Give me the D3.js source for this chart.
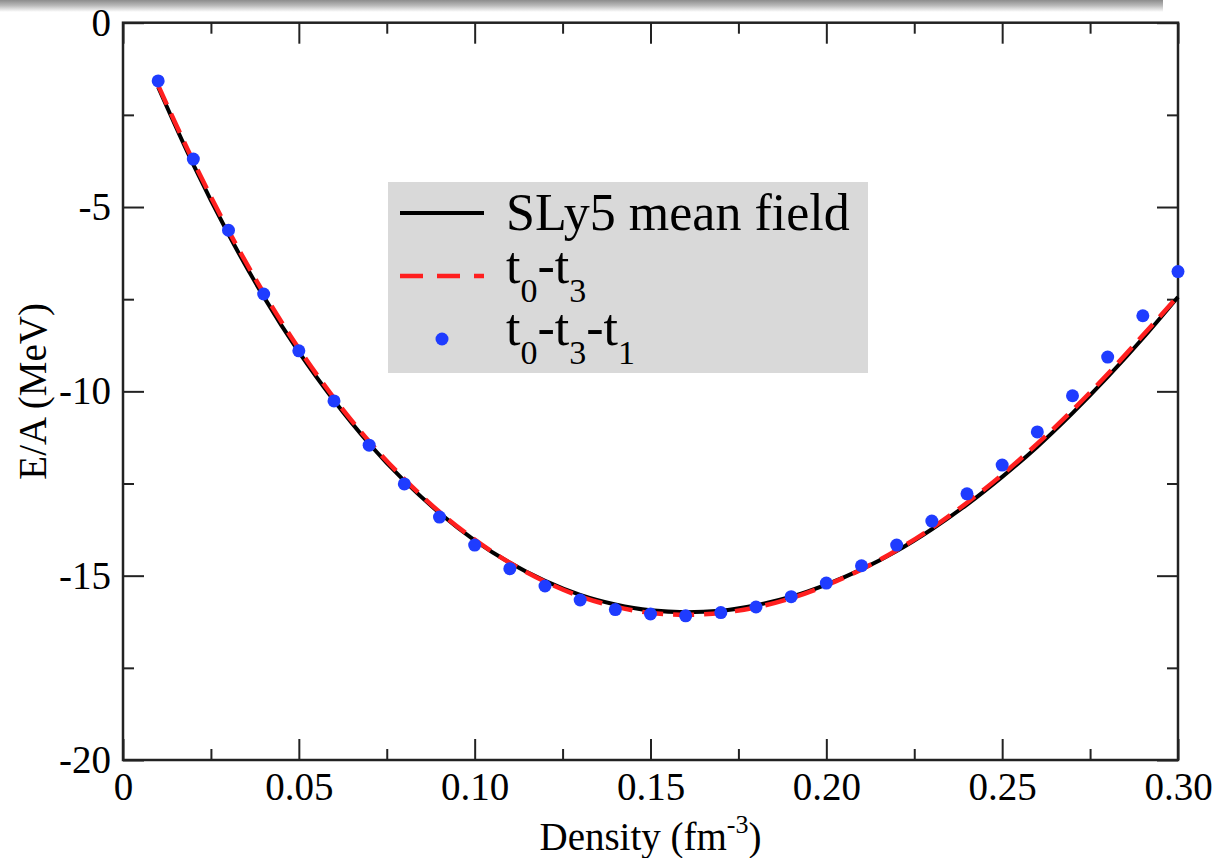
<!DOCTYPE html>
<html>
<head>
<meta charset="utf-8">
<script src="https://cdn.jsdelivr.net/npm/d3@7"></script>
<style>
  html, body { margin: 0; padding: 0; background: #ffffff; }
  svg text { font-family: "Liberation Serif", "Times New Roman", serif; fill: #000; }
</style>
</head>
<body>
<svg id="chart" width="1223" height="858"></svg>
<script>
// ---- data ----
const density = [0.01,0.02,0.03,0.04,0.05,0.06,0.07,0.08,0.09,0.10,
                 0.11,0.12,0.13,0.14,0.15,0.16,0.17,0.18,0.19,0.20,
                 0.21,0.22,0.23,0.24,0.25,0.26,0.27,0.28,0.29,0.30];
const sly5MeanField = [-1.75,-3.85,-5.74,-7.43,-8.93,-10.25,-11.42,-12.43,-13.30,-14.04,
                       -14.65,-15.14,-15.52,-15.78,-15.94,-15.99,-15.95,-15.80,-15.57,-15.24,
                       -14.83,-14.33,-13.74,-13.07,-12.32,-11.50,-10.59,-9.61,-8.56,-7.44];
const t0t3 = [-1.70,-3.76,-5.64,-7.33,-8.84,-10.18,-11.36,-12.38,-13.27,-14.02,
              -14.65,-15.16,-15.56,-15.84,-16.01,-16.06,-16.01,-15.86,-15.61,-15.26,
              -14.83,-14.31,-13.71,-13.02,-12.26,-11.42,-10.51,-9.53,-8.48,-7.42];
const t0t3t1 = [-1.58,-3.70,-5.63,-7.36,-8.90,-10.26,-11.46,-12.51,-13.41,-14.17,
                -14.81,-15.28,-15.66,-15.92,-16.04,-16.09,-16.00,-15.85,-15.57,-15.20,
                -14.73,-14.17,-13.52,-12.78,-12.00,-11.10,-10.12,-9.07,-7.95,-6.75];
const xMajorTicks = [0,0.05,0.10,0.15,0.20,0.25,0.30];
const xTickLabels = ["0","0.05","0.10","0.15","0.20","0.25","0.30"];
const xMinorTicks = [0.025,0.075,0.125,0.175,0.225,0.275];
const yMajorTicks = [-20,-15,-10,-5,0];
const yTickLabels = ["-20","-15","-10","-5","0"];
const yMinorTicks = [-17.5,-12.5,-7.5,-2.5];
const legendLabels = ["SLy5 mean field","t0-t3","t0-t3-t1"];

// ---- layout ----
const svg = d3.select("#chart");
const L = 123, R = 1178, T = 22.7, B = 760;
const x = d3.scaleLinear().domain([0, 0.30]).range([L, R]);
const y = d3.scaleLinear().domain([-20, 0]).range([B, T]);

// top shadow bar (screenshot artefact)
const defs = svg.append("defs");
const grad = defs.append("linearGradient").attr("id","topbar").attr("x1",0).attr("y1",0).attr("x2",0).attr("y2",1);
grad.append("stop").attr("offset","0%").attr("stop-color","#8c8c8c");
grad.append("stop").attr("offset","45%").attr("stop-color","#b8b8b8");
grad.append("stop").attr("offset","100%").attr("stop-color","#ffffff");
svg.append("rect").attr("x",0).attr("y",0).attr("width",1163).attr("height",12).attr("fill","url(#topbar)");

// axes
function styleAxis(g, showText) {
  g.select(".domain").remove();
  g.selectAll(".tick line").attr("stroke","#222").attr("stroke-width",2);
  g.selectAll(".tick text").style("font-size","39px");
  if (!showText) g.selectAll(".tick text").remove();
}
function addAxis(axisFn, scale, pos, ticks, labels, size, isX) {
  const g = svg.append("g").attr("transform", isX ? `translate(0,${pos})` : `translate(${pos},0)`);
  const ax = axisFn(scale).tickValues(ticks).tickSizeInner(-size).tickSizeOuter(0).tickPadding(12)
    .tickFormat(labels ? (d,i)=>labels[i] : "");
  g.call(ax);
  styleAxis(g, !!labels);
  return g;
}
addAxis(d3.axisBottom, x, B, xMajorTicks, xTickLabels, 21, true);
addAxis(d3.axisBottom, x, B, xMinorTicks, null, 11, true);
addAxis(d3.axisTop, x, T, xMajorTicks, null, 21, true);
addAxis(d3.axisTop, x, T, xMinorTicks, null, 11, true);
addAxis(d3.axisLeft, y, L, yMajorTicks, yTickLabels, 21, false);
addAxis(d3.axisLeft, y, L, yMinorTicks, null, 11, false);
addAxis(d3.axisRight, y, R, yMajorTicks, null, 21, false);
addAxis(d3.axisRight, y, R, yMinorTicks, null, 11, false);

// frame
svg.append("rect").attr("x",L).attr("y",T).attr("width",R-L).attr("height",B-T)
  .attr("fill","none").attr("stroke","#222").attr("stroke-width",2.5);

// axis titles
const xt = svg.append("text").attr("x",(L+R)/2).attr("y",850).attr("text-anchor","middle").style("font-size","39px");
xt.append("tspan").text("Density (fm");
xt.append("tspan").text("-3").style("font-size","26px").attr("dy",-17);
xt.append("tspan").text(")").attr("dy",17);
svg.append("text").attr("transform",`translate(46,${(T+B)/2}) rotate(-90)`).attr("text-anchor","middle")
  .style("font-size","39px").text("E/A (MeV)");

// series
const pts = (vals) => density.map((d,i)=>[d, vals[i]]);
const line = d3.line().x(d=>x(d[0])).y(d=>y(d[1])).curve(d3.curveMonotoneX);
const plot = svg.append("g");
plot.append("path").datum(pts(sly5MeanField)).attr("d",line)
  .attr("fill","none").attr("stroke","#000").attr("stroke-width",4);
plot.append("path").datum(pts(t0t3)).attr("d",line)
  .attr("fill","none").attr("stroke","#ff1f1f").attr("stroke-width",4.5).attr("stroke-dasharray","21,10");
plot.selectAll("circle.pt").data(pts(t0t3t1)).join("circle").attr("class","pt")
  .attr("cx",d=>x(d[0])).attr("cy",d=>y(d[1])).attr("r",6.5).attr("fill","#1f3cff");

// legend
const lg = svg.append("g");
lg.append("rect").attr("x",388).attr("y",182).attr("width",480).attr("height",191).attr("fill","#d9d9d9");
lg.append("line").attr("x1",400).attr("x2",484).attr("y1",213).attr("y2",213).attr("stroke","#000").attr("stroke-width",4);
lg.append("line").attr("x1",400).attr("x2",484).attr("y1",276).attr("y2",276).attr("stroke","#ff1f1f").attr("stroke-width",4.5).attr("stroke-dasharray","23,14");
lg.append("circle").attr("cx",442).attr("cy",339).attr("r",6.5).attr("fill","#1f3cff");
lg.append("text").attr("x",506).attr("y",230).style("font-size","52px").text(legendLabels[0]);
function subLabel(txt, yb) {
  // render "t0-t3" style labels with subscript digits
  const t = lg.append("text").attr("x",506).attr("y",yb).style("font-size","52px");
  const parts = txt.split("-");
  parts.forEach((p,i) => {
    if (i>0) t.append("tspan").text("-" + p[0]).attr("dy",-19);
    else t.append("tspan").text(p[0]);
    t.append("tspan").text(p.slice(1)).style("font-size","34px").attr("dy",19);
  });
}
subLabel(legendLabels[1], 283);
subLabel(legendLabels[2], 345);
</script>
</body>
</html>
